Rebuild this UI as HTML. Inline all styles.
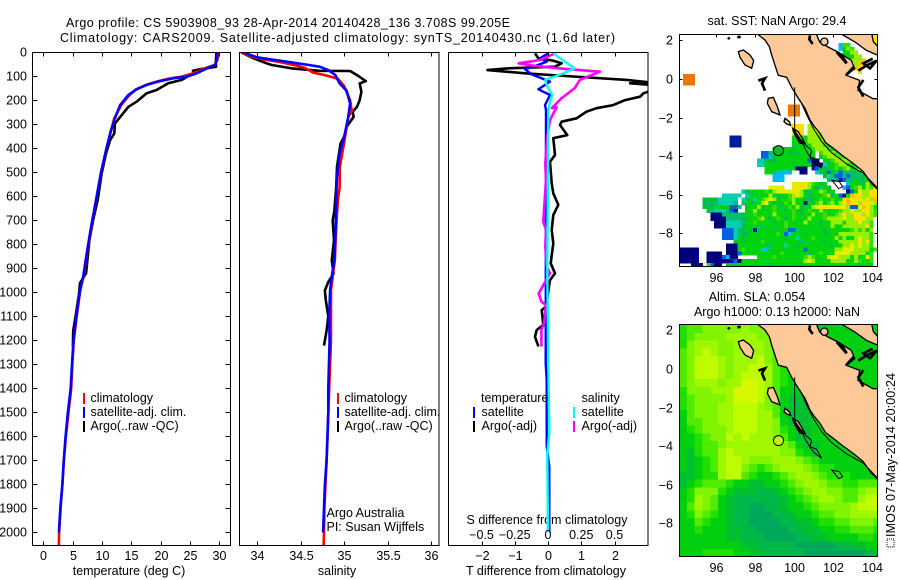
<!DOCTYPE html>
<html>
<head>
<meta charset="utf-8">
<title>Argo profile</title>
<style>
html,body{margin:0;padding:0;background:#fff;}
svg{display:block;font-family:"Liberation Sans",sans-serif;font-size:12.5px;fill:#000;}
text{fill:#000;}
.ax{stroke:#000;stroke-width:1;fill:none;shape-rendering:crispEdges;}
.ln{fill:none;stroke-linejoin:round;}
</style>
</head>
<body>
<svg id="fig" width="900" height="580" viewBox="0 0 900 580" xmlns="http://www.w3.org/2000/svg">
<defs>
<clipPath id="c1"><rect x="33" y="52" width="198" height="493"/></clipPath>
<clipPath id="c2"><rect x="240" y="52" width="199" height="493"/></clipPath>
<clipPath id="c3"><rect x="449" y="52" width="199" height="493"/></clipPath>
<clipPath id="m1"><rect x="680" y="34" width="197" height="233"/></clipPath>
<clipPath id="m2"><rect x="680" y="324" width="197" height="233"/></clipPath>
</defs>
<text x="66" y="27" textLength="444">Argo profile: CS 5903908_93 28-Apr-2014 20140428_136 3.708S 99.205E</text>
<text x="60" y="42" textLength="555">Climatology: CARS2009. Satellite-adjusted climatology: synTS_20140430.nc (1.6d later)</text>
<text x="129" y="575" text-anchor="middle">temperature (deg C)</text>
<text x="337" y="575" text-anchor="middle">salinity</text>
<text x="546" y="575" text-anchor="middle">T difference from climatology</text>
<text x="547" y="524" text-anchor="middle">S difference from climatology</text>
<text x="326.5" y="517">Argo Australia</text>
<text x="326.5" y="531">PI: Susan Wijffels</text>
<text x="777" y="25" text-anchor="middle">sat. SST: NaN Argo: 29.4</text>
<text x="757" y="301" text-anchor="middle">Altim. SLA: 0.054</text>
<text x="777" y="316" text-anchor="middle">Argo h1000: 0.13 h2000: NaN</text>
<rect x="887" y="539" width="7" height="8" fill="none" stroke="#000" stroke-dasharray="1 1" shape-rendering="crispEdges"/>
<text transform="translate(895,537) rotate(-90)" textLength="164">IMOS 07-May-2014 20:00:24</text>
</svg>
<script>
// ---------- profile data: [depth, value] ----------
var tempClim = [[0,29.9],[30,29.7],[53,29.2],[67,27.5],[88,25.5],[102,23.5],[108,21.8],[120,19.6],[136,17.5],[154,15.8],[178,14.7],[219,13.3],[275,12.1],[338,11.4],[407,10.7],[504,9.85],[601,9.1],[712,8.3],[823,7.55],[934,6.85],[990,6.3],[1100,5.7],[1200,5.2],[1300,4.95],[1400,4.75],[1500,4.3],[1600,3.85],[1700,3.5],[1800,3.25],[1900,2.95],[2000,2.7],[2055,2.65]];
var tempSat = [[0,29.7],[32,29.55],[53,29.3],[67,27.85],[88,26.1],[102,24.4],[108,22.2],[120,19.9],[136,17.6],[154,15.9],[178,14.5],[219,13.1],[275,12.2],[338,11.4],[407,10.7],[504,9.8],[601,9.1],[712,8.25],[823,7.5],[934,6.8],[990,6.25],[1100,5.65],[1200,5.15],[1300,4.9],[1400,4.67],[1500,4.2],[1600,3.8],[1700,3.5],[1800,3.25],[1900,2.9],[2000,2.67]];
var tempArgo = [[0,29.5],[47,29.4],[60,29.45],[71,26.7],[77,25.5],[85,26],[95,25],[115,23.6],[129,21.3],[157,19.3],[171,17.6],[206,15.9],[227,14.5],[269,13.1],[297,12.2],[338,12.1],[365,11.4],[420,10.7],[504,9.95],[615,9.27],[698,8.5],[782,7.85],[920,7.3],[962,6.25],[1004,6.1],[1100,5.5],[1160,5.1],[1225,5.05]];
var salClim = [[0,33.82],[21,33.96],[30,34.08],[40,34.25],[55,34.45],[65,34.55],[85,34.65],[95,34.78],[110,34.93],[140,35.0],[165,35.03],[200,35.07],[245,35.09],[269,35.05],[380,35.0],[480,34.95],[560,34.95],[615,34.93],[726,34.91],[864,34.895],[990,34.85],[1200,34.85],[1400,34.83],[1500,34.82],[1700,34.8],[1900,34.775],[2000,34.77],[2055,34.765]];
var salSat = [[0,33.84],[21,34],[29,34.15],[39,34.34],[49,34.53],[60,34.72],[74,34.82],[95,34.9],[130,34.95],[160,35.03],[213,35.07],[269,35.05],[338,35.01],[421,34.95],[518,34.92],[615,34.91],[726,34.905],[864,34.89],[934,34.86],[990,34.84],[1100,34.83],[1200,34.835],[1400,34.82],[1500,34.82],[1600,34.81],[1700,34.8],[1800,34.78],[1900,34.77],[2000,34.76]];
var salArgo = [[0,33.82],[25,33.96],[46,34.11],[53,34.17],[67,34.4],[77,34.72],[78,35.07],[95,35.15],[120,35.25],[130,35.18],[164,35.2],[199,35.18],[227,35.15],[248,35.1],[269,35.11],[311,35.03],[346,35.01],[381,34.96],[478,34.92],[562,34.91],[659,34.89],[700,34.87],[783,34.885],[867,34.86],[922,34.88],[957,34.82],[992,34.78],[1030,34.79],[1100,34.82],[1160,34.8],[1222,34.77]];
var diffTempSat = [[4,0.01],[25,-0.24],[39,-0.04],[57,-0.39],[71,-0.69],[92,-0.49],[122,0.06],[154,-0.29],[178,0.06],[220,-0.09],[240,-0.06],[1296,-0.07],[1365,-0.04],[1643,-0.04],[1726,0.04],[2000,0.04]];
var diffTempArgo = [[4,-0.39],[25,-0.29],[35,0.16],[46,0.41],[60,0.21],[67,-1.24],[74,-1.82],[88,-0.64],[101,0.76],[115,2.37],[126,3.1],[129,2.47],[136,3.1],[160,3.1],[171,2.87],[185,2.77],[199,2.32],[220,1.96],[233,1.46],[247,1.16],[275,0.86],[289,0.41],[303,0.36],[345,0.58],[358,0.16],[428,0.21],[456,0.06],[546,0.11],[588,0.16],[636,0.31],[678,0.16],[740,0.11],[796,0.16],[879,0.08],[921,0.21],[949,0.06],[1060,-0.06],[1074,-0.19],[1136,-0.14],[1157,-0.34],[1185,-0.39],[1226,-0.29]];
var diffTempRaw = [[1060,0.02],[1150,0.02]];
var diffSalSat = [[4,0.04],[25,0.09],[67,0.2],[88,0.115],[115,-0.02],[136,-0.01],[178,0.03],[240,0.002],[921,-0.005],[1296,0.002],[1585,0.01],[1670,-0.005],[2000,0]];
var diffSalArgo = [[4,0.053],[32,-0.06],[46,-0.22],[56,-0.11],[68,0.1],[81,0.39],[115,0.24],[150,0.2],[192,0.1],[233,0.03],[229,0.065],[282,0.015],[351,-0.005],[462,-0.02],[532,-0.015],[706,-0.035],[740,-0.015],[810,-0.02],[893,-0.01],[921,0.015],[956,-0.02],[1004,-0.07],[1039,-0.05],[1053,-0.015],[1130,-0.03],[1157,-0.05],[1226,-0.05]];
var depthTicks = [0,100,200,300,400,500,600,700,800,900,1000,1100,1200,1300,1400,1500,1600,1700,1800,1900,2000];
var tempTicks = [0,5,10,15,20,25,30];
var salTicks = [34,34.5,35,35.5,36];
var diffTempTicks = [-2,-1,0,1,2];
var diffSalTicks = [-0.5,-0.25,0,0.25,0.5];
var lonTicks = [96,98,100,102,104];
var latTicks = [2,0,-2,-4,-6,-8];
var argoLon = 99.205;
var argoLat = -3.708;

// ---------- SST grid (0.2 deg cells, row 0 at the top, '.' = no data) ----------
var sstColors = {n:'#00007f',b:'#001c9c',B:'#0060e0',c:'#00b8ff',t:'#00d0b0',s:'#00c070',g:'#00c040',G:'#00d410',l:'#3cde00',L:'#98ee00',y:'#e0f000',Y:'#ffe000',o:'#ffc000',O:'#e87800'};
var sstRows = [
"..................................................Y",
"..................................................Y",
".........................................cll......Y",
".........................................cGLl.....Y",
"..........................................GGLL",
"..........................................GGGLL",
"..........................................GlLLLo",
".............................................LoY",
".............................................oY",
"..............................................Y",
".OOO",
".OOO",
".OOO",
"","","","","",
"............................OOO",
"............................OOO",
"............................OOO",
"","",
".............................YYY.LL",
".............................YYY.LLy",
".............................YYY.LLLl",
".............bbb.............GGGGLLLl",
".............bbb.............GGGGLLLLl",
".............bbb.............GGGGGLLLlG",
"........................GGGGGgGGGGlLLLlG",
".....................BBsgGGGgGgGGGG.lLLLllG",
".....................BBcgGGGGGGGGGG.GlLLLlGl",
"....................ttgggGGGGGGGGBnn.GGlLLLLlGl",
"....................ttGGGGGGGgGGGGnnntsGlLLlGGlL",
"......................GGGGGGGGnnn.bBGgGGlGlLGl",
"......................GGGcccc..nn..tsgBgsBsssgG",
"........................ccc..........gtsBBsBsssgG",
"........................ccc...........stsbBssGsgGs",
".............................yyYyLlGgG.....cGGGgLGgG",
".......................yyyy..yYYyLGgsGg...cBGlLGLlYl",
"................tgGGGGlGLyyyyYyLgsGGLlgG...nBGYLLYYLYl",
"...........ttttt.tgGGGGLGgGGlLyLGgGGGlLgGBnGoYYLLYYYYo",
"......ggggttttt.tgGtGlLyLgGGlLGGgsgGlGGlGGYoYYYLYLoY",
"......gsgstttts.sGgGGLyGgGGlGLGGbGGlLGlLGLYoYYLYYYLl",
"......gggGGGGBBs.gGGLgGGlGsGlGLgGGLyYYyYyYyLBBYoYLGG",
".......sstttsBb..GGLGGGGlGGgGlGgGlGGLGGGGlLLYLLYYLl",
"........nnnsssssgGGlGGGGLGGGGlGgGGLGGlGGlLYLLYYLYLl",
"........nnnnssssggGGlLGgGlGgGlGGGLGGGlLLLLYLLYYYLL",
".........nnnttttsGGlGGGGgGGlGGGGLGGGgGGLLLGLLLYLLl",
".........nnnttttgGGGGsGGGGGlGGGGGGGGGGGLGGLLLLLLYl",
"...........BBBtsgGgbGGGGGsGGBBsGGGGGGgGGGGGGlLlLGL",
"...........BBBtsggGGGGGGGlGBcGGGgGGGGgGGGLLLLLLLLl",
"...........BBBtGgGGGGGGGGGGgGGtGGGlGGGGGLGLGGLyLLl",
"..............gGgGGGGlGGGGGGGGGsGGGGGgGGGLLLLLYLyl",
"............nnnGGGGGGGGsGGGtGGgGGGGGGGGgGGLLyLyLLl",
"nnnnn.......nnnGlGGGGtcGGGGGGGGGBGGGGGGGLLyyyLLLLGl",
"nnnnn..nnnn.nnnBGGGGGGGGGGlGGGGGGgGGlGGGyyyyLLLLGl",
"nnnnn..nnnnBcnn.....GGGGlGGGGGGGlLlGGGyyyLLLGLGGyl",
"nnnnn..nnnnnnbBnGGGGGGGGGGGGGGGGLyLGGGGLLLLGGLlGGl",
"...nnn.lBnn.gggGGGGgGGGgGGGGGGGgGGGGGGGGGGGGGGgGGG"
];

// ---------- SLA grid (0.4 deg cells, level 0-9) ----------
var slaColors = ['#00a85a','#00b848','#00c030','#00d010','#20e000','#50ec00','#80f400','#a0f800','#c0fc00','#d8f800'];
var slaRows = [
"45566666766554433333333333",
"45666677776654433333333333",
"46777667777654433333333333",
"56787667777654433333333333",
"56888767778654333333333333",
"56888767788754333333333333",
"56888767888754333333333333",
"56777677998754333333333333",
"46667779998753333333333333",
"45666679998653222333333333",
"45666778887653222333333333",
"35666778887753222333333333",
"35566778887763222333333333",
"34566678887764322333333333",
"33456687877765322333333333",
"33455677777776532233333333",
"32455787777776643233333333",
"32345788766677765433333333",
"32345788654567776544333333",
"22344788543345677654443333",
"23455543322334567765544555",
"34666432221123456776655677",
"34765321111112345677655788",
"35765321100112334566667888",
"34654321100011233455667777",
"33543321100001122344556665",
"33433322110000112233445554",
"33333322111000011223333443",
"33333333221111100000112233",
"33344443322111110000000012"
];

var svg = document.getElementById('fig');
var NS = 'http://www.w3.org/2000/svg';
function mk(tag, attrs, parent) {
  var el = document.createElementNS(NS, tag);
  for (var k in attrs) el.setAttribute(k, attrs[k]);
  (parent || svg).appendChild(el);
  return el;
}
function group(name, clip) {
  var g = mk('g', clip ? {'clip-path': 'url(#' + clip + ')'} : {});
  
  
  return g;
}

// ---------- axis functions ----------
var depthY = function (d) { return 52.3 + d * 0.24; };
var tempX = function (t) { return 43.3 + t * 5.867; };
var salX = function (s) { return 257 + (s - 34) * 87; };
var diffTX = function (v) { return 548 + v * 33.25; };
var diffSX = function (v) { return 548 + v * 133; };
var map1Lon = function (lon) { return 716.3 + (lon - 96) * 19.42; };
var map1Lat = function (lat) { return 79 - lat * 19.3; };
var map2Lat = function (lat) { return 369 - lat * 19.3; };

function fmt(v) { return String(v).replace('-', '\u2212'); }

function tickLabel(x, y, s, anchor, name, parent) {
  var t = mk('text', {x: x, y: y, 'text-anchor': anchor}, parent);
  
  
  t.textContent = s;
}
function seg(x1, y1, x2, y2, parent) {
  mk('line', {x1: x1, y1: y1, x2: x2, y2: y2, 'class': 'ax'}, parent);
}
function frame(x, y, w, h, name) {
  var r = mk('rect', {x: x, y: y, width: w, height: h, 'class': 'ax'});
  
  
}
function profile(data, xFn, color, width, name, parent) {
  var pts = data.map(function (p) { return xFn(p[1]).toFixed(1) + ',' + depthY(p[0]).toFixed(1); }).join(' ');
  var l = mk('polyline', {points: pts, stroke: color, 'stroke-width': width, 'class': 'ln'}, parent);
  
  
  return l;
}
function legendBar(x, y, color, name) {
  var r = mk('rect', {x: x, y: y, width: 2, height: 11, fill: color});
  
  
}
function legendText(x, y, s, name) {
  var t = mk('text', {x: x, y: y});
  
  
  t.textContent = s;
}

// ---------- profile panels ----------
var p1 = group('temperature-panel', 'c1');
profile(tempArgo, tempX, '#000', 2.6, 'temperature-argo-line', p1);
profile(tempClim, tempX, '#ff0000', 2.6, 'temperature-climatology-line', p1);
profile(tempSat, tempX, '#0000ff', 2.6, 'temperature-satellite-line', p1);
var p2 = group('salinity-panel', 'c2');
profile(salArgo, salX, '#000', 2.6, 'salinity-argo-line', p2);
profile(salClim, salX, '#ff0000', 2.6, 'salinity-climatology-line', p2);
profile(salSat, salX, '#0000ff', 2.6, 'salinity-satellite-line', p2);
var p3 = group('difference-panel', 'c3');
profile(diffTempArgo, diffTX, '#000', 2.6, 'diff-temperature-argo-line', p3);
profile(diffTempRaw, diffTX, '#000', 1, 'diff-temperature-raw-line', p3).setAttribute('stroke-dasharray', '1 2');
profile(diffTempSat, diffTX, '#0000ff', 2.4, 'diff-temperature-satellite-line', p3);
profile(diffSalArgo, diffSX, '#ff00ff', 2.6, 'diff-salinity-argo-line', p3);
profile(diffSalSat, diffSX, '#00ffff', 2.4, 'diff-salinity-satellite-line', p3);

frame(32.5, 52.5, 198, 493, 'temperature-axes-frame');
frame(239.5, 52.5, 199.5, 493, 'salinity-axes-frame');
frame(448.5, 52.5, 199.5, 493, 'difference-axes-frame');

var ax = group('axis-ticks');
depthTicks.forEach(function (d) {
  var y = Math.round(depthY(d));
  seg(32.5, y + 0.5, 37.5, y + 0.5, ax);
  seg(225.5, y + 0.5, 230.5, y + 0.5, ax);
  tickLabel(27, y + 4.5, String(d), 'end', 'depth-tick-label', ax);
});
tempTicks.forEach(function (t) {
  var x = Math.round(tempX(t)) + 0.5;
  seg(x, 52.5, x, 56.5, ax);
  seg(x, 541.5, x, 545.5, ax);
  tickLabel(x, 560, String(t), 'middle', 'temperature-tick-label', ax);
});
salTicks.forEach(function (s) {
  var x = Math.round(salX(s)) + 0.5;
  seg(x, 52.5, x, 56.5, ax);
  seg(x, 541.5, x, 545.5, ax);
  tickLabel(x, 560, String(s), 'middle', 'salinity-tick-label', ax);
});
diffTempTicks.forEach(function (v) {
  var x = Math.round(diffTX(v)) + 0.5;
  seg(x, 52.5, x, 56.5, ax);
  seg(x, 541.5, x, 545.5, ax);
  tickLabel(x, 560, fmt(v), 'middle', 'diff-temperature-tick-label', ax);
});
diffSalTicks.forEach(function (v) {
  var x = diffSX(v);
  tickLabel(x, 539, fmt(v), 'middle', 'diff-salinity-tick-label', ax);
});

// ---------- legends ----------
legendBar(83, 393, '#ff0000', 'legend-climatology-swatch');
legendBar(83, 407, '#0000ff', 'legend-satellite-swatch');
legendBar(83, 421, '#000000', 'legend-argo-swatch');
legendText(90.5, 402, 'climatology', 'legend-climatology-label');
legendText(90.5, 416, 'satellite-adj. clim.', 'legend-satellite-label');
legendText(90.5, 430, 'Argo(..raw -QC)', 'legend-argo-label');
legendBar(337, 393, '#ff0000', 'legend-climatology-swatch');
legendBar(337, 407, '#0000ff', 'legend-satellite-swatch');
legendBar(337, 421, '#000000', 'legend-argo-swatch');
legendText(344.5, 402, 'climatology', 'legend-climatology-label');
legendText(344.5, 416, 'satellite-adj. clim.', 'legend-satellite-label');
legendText(344.5, 430, 'Argo(..raw -QC)', 'legend-argo-label');
legendText(481, 402, 'temperature', 'legend-temperature-heading');
legendText(481.5, 416, 'satellite', 'legend-t-satellite-label');
legendText(481.5, 430, 'Argo(-adj)', 'legend-t-argo-label');
legendBar(473, 407, '#0000ff', 'legend-t-satellite-swatch');
legendBar(473, 421, '#000000', 'legend-t-argo-swatch');
legendText(581.5, 402, 'salinity', 'legend-salinity-heading');
legendText(581.5, 416, 'satellite', 'legend-s-satellite-label');
legendText(581.5, 430, 'Argo(-adj)', 'legend-s-argo-label');
legendBar(573, 407, '#00ffff', 'legend-s-satellite-swatch');
legendBar(573, 421, '#ff00ff', 'legend-s-argo-swatch');

// ---------- maps ----------
var LON0 = 94.09, LAT0 = 2.27;
var mapA = group('sst-map', 'm1');
sstRows.forEach(function (row, r) {
  for (var c = 0; c < row.length; c++) {
    var ch = row.charAt(c);
    if (ch === '.') continue;
    var x0 = map1Lon(LON0 + c * 0.2), x1 = map1Lon(LON0 + (c + 1) * 0.2);
    var y0 = map1Lat(LAT0 - r * 0.2), y1 = map1Lat(LAT0 - (r + 1) * 0.2);
    var cell = mk('rect', {x: x0.toFixed(1), y: y0.toFixed(1), width: (x1 - x0 + 0.3).toFixed(1), height: (y1 - y0 + 0.3).toFixed(1), fill: sstColors[ch], 'shape-rendering': 'crispEdges'}, mapA);
    
    
  }
});
var mapB = group('sla-map', 'm2');
slaRows.forEach(function (row, r) {
  for (var c = 0; c < row.length; c++) {
    var x0 = map1Lon(LON0 + c * 0.4), x1 = map1Lon(LON0 + (c + 1) * 0.4);
    var y0 = map2Lat(LAT0 - r * 0.4), y1 = map2Lat(LAT0 - (r + 1) * 0.4);
    var cell = mk('rect', {x: x0.toFixed(1), y: y0.toFixed(1), width: (x1 - x0 + 0.3).toFixed(1), height: (y1 - y0 + 0.3).toFixed(1), fill: slaColors[+row.charAt(c)], 'shape-rendering': 'crispEdges'}, mapB);
    
    
  }
});

// basemap outline traced in 3x map-image units
var landPath = 'M322,102 L345,120 358,140 365,165 378,205 385,226 410,232 425,262 445,295 465,325 480,360 492,378 510,400 527,428 550,445 575,465 612,492 640,515 662,547 684,570 L684,296 669,296 624,271 629,241 589,226 614,206 604,181 564,156 534,141 509,126 499,102 Z ' +
  'M574,102 L615,126 649,151 684,166 L684,140 670,125 665,102 Z';
var islandPaths = ['M265,155 L280,150 300,165 311,182 305,205 285,195 270,172 Z','M355,295 L370,292 382,320 390,345 365,335 352,310 Z','M405,355 L418,365 422,376 410,372 402,365 Z','M428,385 L445,395 465,430 450,430 435,405 Z','M512,125 a11,11 0 1,0 22,0 a11,11 0 1,0 -22,0 Z'];
var outlinePaths = ['M455,425 L472,440 485,452 480,470 500,478 515,505 495,490 482,475 470,455 Z','M545,540 L568,545 578,560 566,566 555,552 Z'];
var blackBits = ['M480,106 L478,118 488,132','M325,242 L345,235 336,250 345,272','M235,112 L238,118','M262,112 L272,110','M625,212 L650,196 680,182 660,205 640,190 668,176','M588,226 L612,200','M560,156 L590,190 575,165','M430,390 L450,420 462,432','M640,240 L625,262 640,290'];
var contourPaths = ['M434,262 L434,392','M450,300 L470,345 490,385 515,425 545,458 590,492 640,520 684,565'];

function basemap(parent, dy, name) {
  var g = mk('g', {transform: 'translate(650,' + dy + ') scale(0.33333)'}, parent);
  
  
  mk('path', {d: landPath, fill: '#fdc998', 'fill-rule': 'evenodd', stroke: '#000', 'stroke-width': 4}, g);
  islandPaths.forEach(function (d) { mk('path', {d: d, fill: '#fdc998', stroke: '#000', 'stroke-width': 4}, g); });
  outlinePaths.forEach(function (d) { mk('path', {d: d, fill: 'none', stroke: '#000', 'stroke-width': 3}, g); });
  blackBits.forEach(function (d) { mk('path', {d: d, fill: 'none', stroke: '#000', 'stroke-width': 8}, g); });
  contourPaths.forEach(function (d) { mk('path', {d: d, fill: 'none', stroke: '#000', 'stroke-width': 3}, g); });
}
basemap(mapA, 0, 'sst-coastline');
basemap(mapB, 290, 'sla-coastline');

var m1 = mk('circle', {cx: map1Lon(argoLon), cy: map1Lat(argoLat), r: 5, fill: '#00c020', stroke: '#000'}, mapA);


var m2 = mk('circle', {cx: map1Lon(argoLon), cy: map2Lat(argoLat), r: 5, fill: '#c0f400', stroke: '#000'}, mapB);



frame(679.5, 34.5, 198, 232, 'sst-map-frame');
frame(679.5, 324.5, 198, 232, 'sla-map-frame');
[[map1Lat, 34.5, 266.5, 282, 'sst'], [map2Lat, 324.5, 556.5, 572, 'sla']].forEach(function (m) {
  lonTicks.forEach(function (lon) {
    var x = Math.round(map1Lon(lon)) + 0.5;
    seg(x, m[1], x, m[1] + 3, ax);
    seg(x, m[2] - 3, x, m[2], ax);
    tickLabel(x, m[3], String(lon), 'middle', m[4] + '-longitude-tick-label', ax);
  });
  latTicks.forEach(function (lat) {
    var y = Math.round(m[0](lat)) + 0.5;
    seg(679.5, y, 682.5, y, ax);
    seg(874.5, y, 877.5, y, ax);
    tickLabel(673, y + 4, fmt(lat), 'end', m[4] + '-latitude-tick-label', ax);
  });
});
</script>
</body>
</html>
